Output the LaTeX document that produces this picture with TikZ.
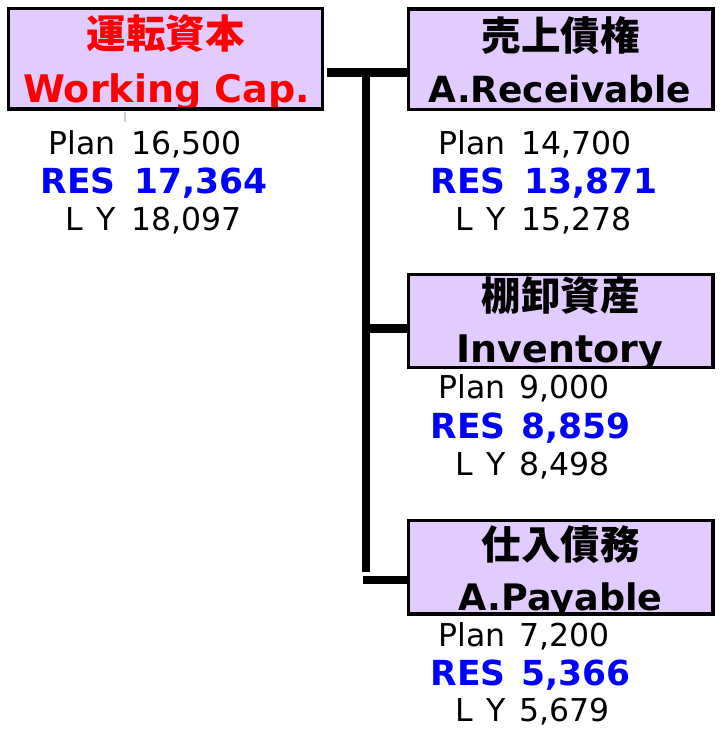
\documentclass[tikz,border=0pt]{standalone}
\usepackage{fontspec}
\setmainfont{DejaVu Sans}
\newfontfamily\jpfont{Noto Sans CJK JP}
\definecolor{boxfill}{RGB}{226,204,255}
\definecolor{resblue}{RGB}{0,0,255}
\definecolor{wcred}{RGB}{255,0,0}
\newcommand{\lyl}{L\hspace{0.43em}Y}
\begin{document}
\begin{tikzpicture}[x=1pt,y=-1pt,
  box/.style={rectangle, draw=black, line width=3.5pt, fill=boxfill, inner sep=0pt, outer sep=0pt},
  boxline/.style={draw=black, line width=3.5pt},
  conn/.style={draw=black, line width=8.5pt},
  jptext/.style={inner sep=0pt, anchor=base, font=\jpfont\bfseries\fontsize{39.5}{41}\selectfont},
  entext/.style={inner sep=0pt, anchor=base, font=\bfseries\fontsize{38}{40}\selectfont},
  lab/.style={inner sep=0pt, anchor=base east, font=\fontsize{31.5}{34}\selectfont},
  num/.style={inner sep=0pt, anchor=base west, font=\fontsize{31.5}{34}\selectfont},
  reslab/.style={inner sep=0pt, anchor=base east, text=resblue, font=\bfseries\fontsize{34.5}{36}\selectfont},
  resnum/.style={inner sep=0pt, anchor=base west, text=resblue, font=\bfseries\fontsize{34.5}{36}\selectfont}
]
\useasboundingbox (0,0) rectangle (722,736);

% ---------- boxes ----------
\node[box, minimum width=314pt, minimum height=100.5pt] (wc) at (165.5,58.75) {};
\node[box, minimum width=304.5pt, minimum height=100.5pt] (ar) at (560.75,59.25) {};
\node[box, minimum width=304.5pt, minimum height=93pt] (inv) at (560.75,321) {};
\node[box, minimum width=304.5pt, minimum height=93.5pt] (ap) at (560.75,567.25) {};

% ---------- box texts ----------
\begin{scope}
  \clip (wc.south west) rectangle (wc.north east);
  \node[jptext, text=wcred] (wcjp) at (165.5,48.5) {運転資本};
  \node[entext, text=wcred] (wcen) at (166.5,102) {Working Cap.};
\end{scope}
\begin{scope}
  \clip (ar.south west) rectangle (ar.north east);
  \node[jptext] (arjp) at (560.75,50) {売上債権};
  \node[entext, font=\bfseries\fontsize{36}{38}\selectfont] (aren) at (560,102) {A.Receivable};
\end{scope}
\begin{scope}
  \clip (inv.south west) rectangle (inv.north east);
  \node[jptext] (invjp) at (560.75,310) {棚卸資産};
  \node[entext] (inven) at (560,362) {Inventory};
\end{scope}
\begin{scope}
  \clip (ap.south west) rectangle (ap.north east);
  \node[jptext] (apjp) at (560.75,559) {仕入債務};
  \node[entext, font=\bfseries\fontsize{36.5}{38}\selectfont] (apen) at (560.5,610) {A.Payable};
\end{scope}
\draw[boxline] (wc.south west) rectangle (wc.north east);
\draw[boxline] (ar.south west) rectangle (ar.north east);
\draw[boxline] (inv.south west) rectangle (inv.north east);
\draw[boxline] (ap.south west) rectangle (ap.north east);

% ---------- connectors ----------
\coordinate (c0) at (327,72.5);
\coordinate (jt) at (366,72.5);
\coordinate (jb) at (366,572);
\coordinate (ji) at (366,328.5);
\coordinate (jp) at (362.5,580);
\draw[conn] (c0) -- (ar.west |- c0);
\draw[conn] (jt) -- (jb);
\draw[conn] (ji) -- (inv.west |- ji);
\draw[conn] (jp) -- (ap.west |- jp);

% small grey tick under the first box
\coordinate (t0) at (125,112);
\coordinate (t1) at (125,122);
\draw[black!20, line width=1.5pt] (t0) -- (t1);

% ---------- values ----------
% Working Capital
\node[lab] (wcpl) at (116,154) {Plan};
\node[num] (wcpn) at (131,154) {16,500};
\node[reslab] (wcrl) at (116,193.3) {RES};
\node[resnum] (wcrn) at (134,193.3) {17,364};
\node[lab] (wcll) at (116,230) {\lyl};
\node[num] (wcln) at (131,230) {18,097};
% Receivable
\node[lab] (arpl) at (506,154) {Plan};
\node[num] (arpn) at (521,154) {14,700};
\node[reslab] (arrl) at (506,193.3) {RES};
\node[resnum] (arrn) at (524,193.3) {13,871};
\node[lab] (arll) at (506,230) {\lyl};
\node[num] (arln) at (521,230) {15,278};
% Inventory
\node[lab] (invpl) at (506,398.3) {Plan};
\node[num] (invpn) at (519,398.3) {9,000};
\node[reslab] (invrl) at (506,438.3) {RES};
\node[resnum] (invrn) at (521,438.3) {8,859};
\node[lab] (invll) at (506,475) {\lyl};
\node[num] (invln) at (519,475) {8,498};
% Payable
\node[lab] (appl) at (506,646.7) {Plan};
\node[num] (appn) at (519,646.7) {7,200};
\node[reslab] (aprl) at (506,685) {RES};
\node[resnum] (aprn) at (521,685) {5,366};
\node[lab] (apll) at (506,721.7) {\lyl};
\node[num] (apln) at (519,721.7) {5,679};
\end{tikzpicture}
\end{document}
